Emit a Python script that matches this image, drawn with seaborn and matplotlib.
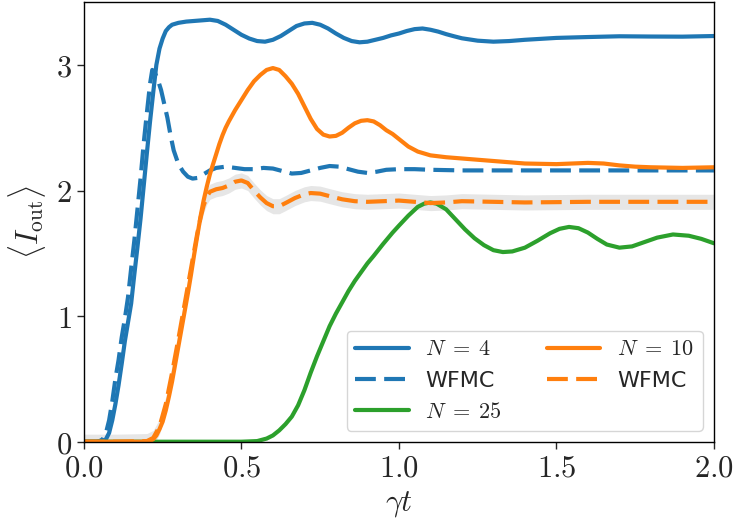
import numpy as np
import matplotlib
matplotlib.use("Agg")
import matplotlib.pyplot as plt
import seaborn as sns

# N = 4, exact
t_n4 = [0, 0.04, 0.06, 0.07, 0.08, 0.09, 0.1, 0.11, 0.12, 0.13, 0.14, 0.15, 0.16, 0.17,
        0.18, 0.19, 0.2, 0.21, 0.22, 0.23, 0.24, 0.25, 0.26, 0.27, 0.28, 0.3, 0.325, 0.35,
        0.375, 0.4, 0.425, 0.45, 0.475, 0.5, 0.525, 0.55, 0.575, 0.6, 0.625, 0.65, 0.675, 0.7,
        0.725, 0.75, 0.775, 0.8, 0.825, 0.85, 0.875, 0.9, 0.925, 0.95, 0.975, 1.0, 1.025, 1.05,
        1.075, 1.1, 1.125, 1.15, 1.175, 1.2, 1.25, 1.3, 1.35, 1.4, 1.5, 1.6, 1.7, 1.8, 1.9, 2.0]
i_n4 = [0.0, 0.0, 0.005, 0.02, 0.07, 0.17, 0.3, 0.45, 0.62, 0.8, 0.95, 1.1, 1.33, 1.55,
        1.78, 2.04, 2.3, 2.55, 2.78, 3.0, 3.13, 3.21, 3.27, 3.3, 3.32, 3.335, 3.345, 3.35,
        3.355, 3.36, 3.35, 3.32, 3.28, 3.24, 3.21, 3.19, 3.185, 3.2, 3.23, 3.27, 3.31, 3.33,
        3.335, 3.32, 3.29, 3.25, 3.215, 3.19, 3.18, 3.185, 3.2, 3.215, 3.235, 3.25, 3.27, 3.285,
        3.29, 3.28, 3.265, 3.245, 3.228, 3.212, 3.193, 3.185, 3.19, 3.2, 3.215, 3.222, 3.228, 3.226, 3.225, 3.23]

# N = 4, WFMC
t_w4 = [0, 0.04, 0.05, 0.06, 0.07, 0.08, 0.09, 0.1, 0.11, 0.12, 0.13, 0.14, 0.15, 0.16,
        0.17, 0.18, 0.19, 0.2, 0.21, 0.217, 0.225, 0.235, 0.245, 0.255, 0.265, 0.275, 0.285, 0.3,
        0.315, 0.33, 0.345, 0.36, 0.38, 0.4, 0.42, 0.45, 0.48, 0.51, 0.54, 0.57, 0.6, 0.63,
        0.66, 0.69, 0.72, 0.75, 0.78, 0.81, 0.84, 0.87, 0.9, 0.93, 0.96, 1.0, 1.05, 1.1,
        1.2, 1.4, 1.6, 1.8, 2.0]
i_w4 = [0.0, 0.0, 0.005, 0.02, 0.07, 0.17, 0.32, 0.5, 0.65, 0.83, 0.98, 1.15, 1.38, 1.6,
        1.85, 2.1, 2.38, 2.62, 2.85, 2.96, 2.94, 2.88, 2.8, 2.69, 2.58, 2.44, 2.32, 2.21,
        2.15, 2.11, 2.095, 2.1, 2.13, 2.16, 2.18, 2.19, 2.18, 2.17, 2.17, 2.18, 2.175, 2.155,
        2.135, 2.14, 2.16, 2.18, 2.195, 2.19, 2.17, 2.15, 2.14, 2.15, 2.165, 2.17, 2.17, 2.165,
        2.16, 2.16, 2.16, 2.16, 2.16]

# N = 25, exact
t_n25 = [0, 0.5, 0.55, 0.58, 0.6, 0.62, 0.64, 0.66, 0.68, 0.7, 0.72, 0.74, 0.76, 0.78,
         0.8, 0.82, 0.84, 0.86, 0.88, 0.9, 0.92, 0.95, 0.98, 1.0, 1.03, 1.06, 1.08, 1.1,
         1.12, 1.15, 1.18, 1.21, 1.24, 1.27, 1.3, 1.33, 1.36, 1.4, 1.44, 1.48, 1.51, 1.54,
         1.57, 1.6, 1.63, 1.66, 1.7, 1.74, 1.78, 1.82, 1.87, 1.92, 1.96, 2.0]
i_n25 = [0.0, 0.0, 0.005, 0.025, 0.05, 0.09, 0.14, 0.2, 0.29, 0.41, 0.55, 0.68, 0.8, 0.92,
         1.02, 1.11, 1.2, 1.28, 1.35, 1.42, 1.48, 1.575, 1.665, 1.72, 1.8, 1.87, 1.895, 1.905,
         1.895, 1.85, 1.77, 1.69, 1.62, 1.565, 1.525, 1.51, 1.515, 1.545, 1.6, 1.66, 1.695, 1.71,
         1.7, 1.665, 1.615, 1.57, 1.545, 1.555, 1.59, 1.625, 1.65, 1.64, 1.615, 1.58]

# N = 10, exact
t_n10 = [0, 0.1, 0.2, 0.21, 0.22, 0.23, 0.24, 0.25, 0.26, 0.27, 0.28, 0.29, 0.3, 0.31,
         0.32, 0.33, 0.34, 0.35, 0.36, 0.37, 0.38, 0.39, 0.4, 0.41, 0.42, 0.43, 0.44, 0.45,
         0.46, 0.48, 0.5, 0.52, 0.54, 0.56, 0.58, 0.6, 0.62, 0.64, 0.66, 0.68, 0.7, 0.72,
         0.74, 0.76, 0.78, 0.8, 0.82, 0.84, 0.86, 0.88, 0.9, 0.92, 0.94, 0.96, 0.98, 1.0,
         1.03, 1.06, 1.1, 1.15, 1.2, 1.3, 1.4, 1.5, 1.6, 1.65, 1.7, 1.75, 1.8, 1.9, 2.0]
i_n10 = [0.0, 0.0, 0.0, 0.005, 0.02, 0.05, 0.1, 0.16, 0.25, 0.36, 0.48, 0.62, 0.76, 0.9,
         1.04, 1.18, 1.33, 1.49, 1.64, 1.79, 1.92, 2.03, 2.13, 2.21, 2.29, 2.37, 2.44, 2.5,
         2.55, 2.64, 2.72, 2.8, 2.87, 2.92, 2.96, 2.975, 2.96, 2.91, 2.85, 2.77, 2.67, 2.57,
         2.49, 2.445, 2.43, 2.435, 2.46, 2.5, 2.535, 2.555, 2.56, 2.55, 2.52, 2.48, 2.45, 2.41,
         2.35, 2.31, 2.28, 2.265, 2.255, 2.235, 2.215, 2.21, 2.22, 2.215, 2.2, 2.19, 2.185, 2.18, 2.185]

# N = 10, WFMC with statistical error
t_w10 = [0, 0.1, 0.2, 0.22, 0.24, 0.26, 0.28, 0.3, 0.32, 0.34, 0.36, 0.37, 0.38, 0.39,
         0.4, 0.42, 0.44, 0.46, 0.48, 0.5, 0.52, 0.54, 0.56, 0.58, 0.6, 0.62, 0.64, 0.67,
         0.7, 0.72, 0.75, 0.78, 0.82, 0.86, 0.9, 0.95, 1.0, 1.05, 1.1, 1.15, 1.2, 1.3,
         1.4, 1.6, 1.8, 2.0]
i_w10 = [0.0, 0.0, 0.005, 0.03, 0.12, 0.3, 0.55, 0.82, 1.1, 1.38, 1.66, 1.78, 1.88, 1.95,
         1.99, 2.01, 2.02, 2.04, 2.07, 2.08, 2.06, 2.0, 1.945, 1.9, 1.875, 1.875, 1.9, 1.94,
         1.97, 1.98, 1.975, 1.955, 1.93, 1.915, 1.91, 1.915, 1.92, 1.91, 1.9, 1.905, 1.915, 1.91,
         1.905, 1.91, 1.91, 1.91]
err_w10 = 0.06

x_ticks = [0.0, 0.5, 1.0, 1.5, 2.0]
x_labels = ["$0.0$", "$0.5$", "$1.0$", "$1.5$", "$2.0$"]
y_ticks = [0, 1, 2, 3]
y_labels = ["$0$", "$1$", "$2$", "$3$"]

sns.set_style("ticks")
plt.rcParams["mathtext.fontset"] = "cm"
plt.rcParams["font.family"] = ["DejaVu Sans"]

blue, orange, green = "#1f77b4", "#ff7f0e", "#2ca02c"
dash = (0, (5, 2))
lw = 3

fig, ax = plt.subplots(figsize=(7.36, 5.29), dpi=100)
fig.subplots_adjust(left=0.114, right=0.970, bottom=0.165, top=0.996)

w10 = np.array(i_w10)
ax.fill_between(t_w10, w10 - err_w10, w10 + err_w10, color="#e6e6e6", lw=0, zorder=1)

opts = dict(ax=ax, lw=lw, sort=False, estimator=None)
sns.lineplot(x=t_n4, y=i_n4, color=blue, label=r"$N\;=\;4$", **opts)
sns.lineplot(x=t_w4, y=i_w4, color=blue, linestyle=dash, label="WFMC", **opts)
sns.lineplot(x=t_n25, y=i_n25, color=green, label=r"$N\;=\;25$", **opts)
sns.lineplot(x=t_n10, y=i_n10, color=orange, label=r"$N\;=\;10$", **opts)
sns.lineplot(x=t_w10, y=i_w10, color=orange, linestyle=dash, label="WFMC", **opts)

ax.set_xlim(0, 2)
ax.set_ylim(0, 3.5)
ax.set_xticks(x_ticks, x_labels)
ax.set_yticks(y_ticks, y_labels)
ax.tick_params(labelsize=22, length=5, width=1, direction="out")
ax.set_xlabel(r"$\gamma t$", fontsize=22, labelpad=5)
ax.set_ylabel(r"$\langle I_{\rm out}\rangle$", fontsize=22, labelpad=6)
for s in ax.spines.values():
    s.set_linewidth(1)
    s.set_color("black")

ax.legend(loc="lower right", ncol=2, fontsize=16, handlelength=2.4, handletextpad=0.75,
          columnspacing=2.0, borderaxespad=0.5, framealpha=0.8)

fig.savefig("out.png", dpi=100)
